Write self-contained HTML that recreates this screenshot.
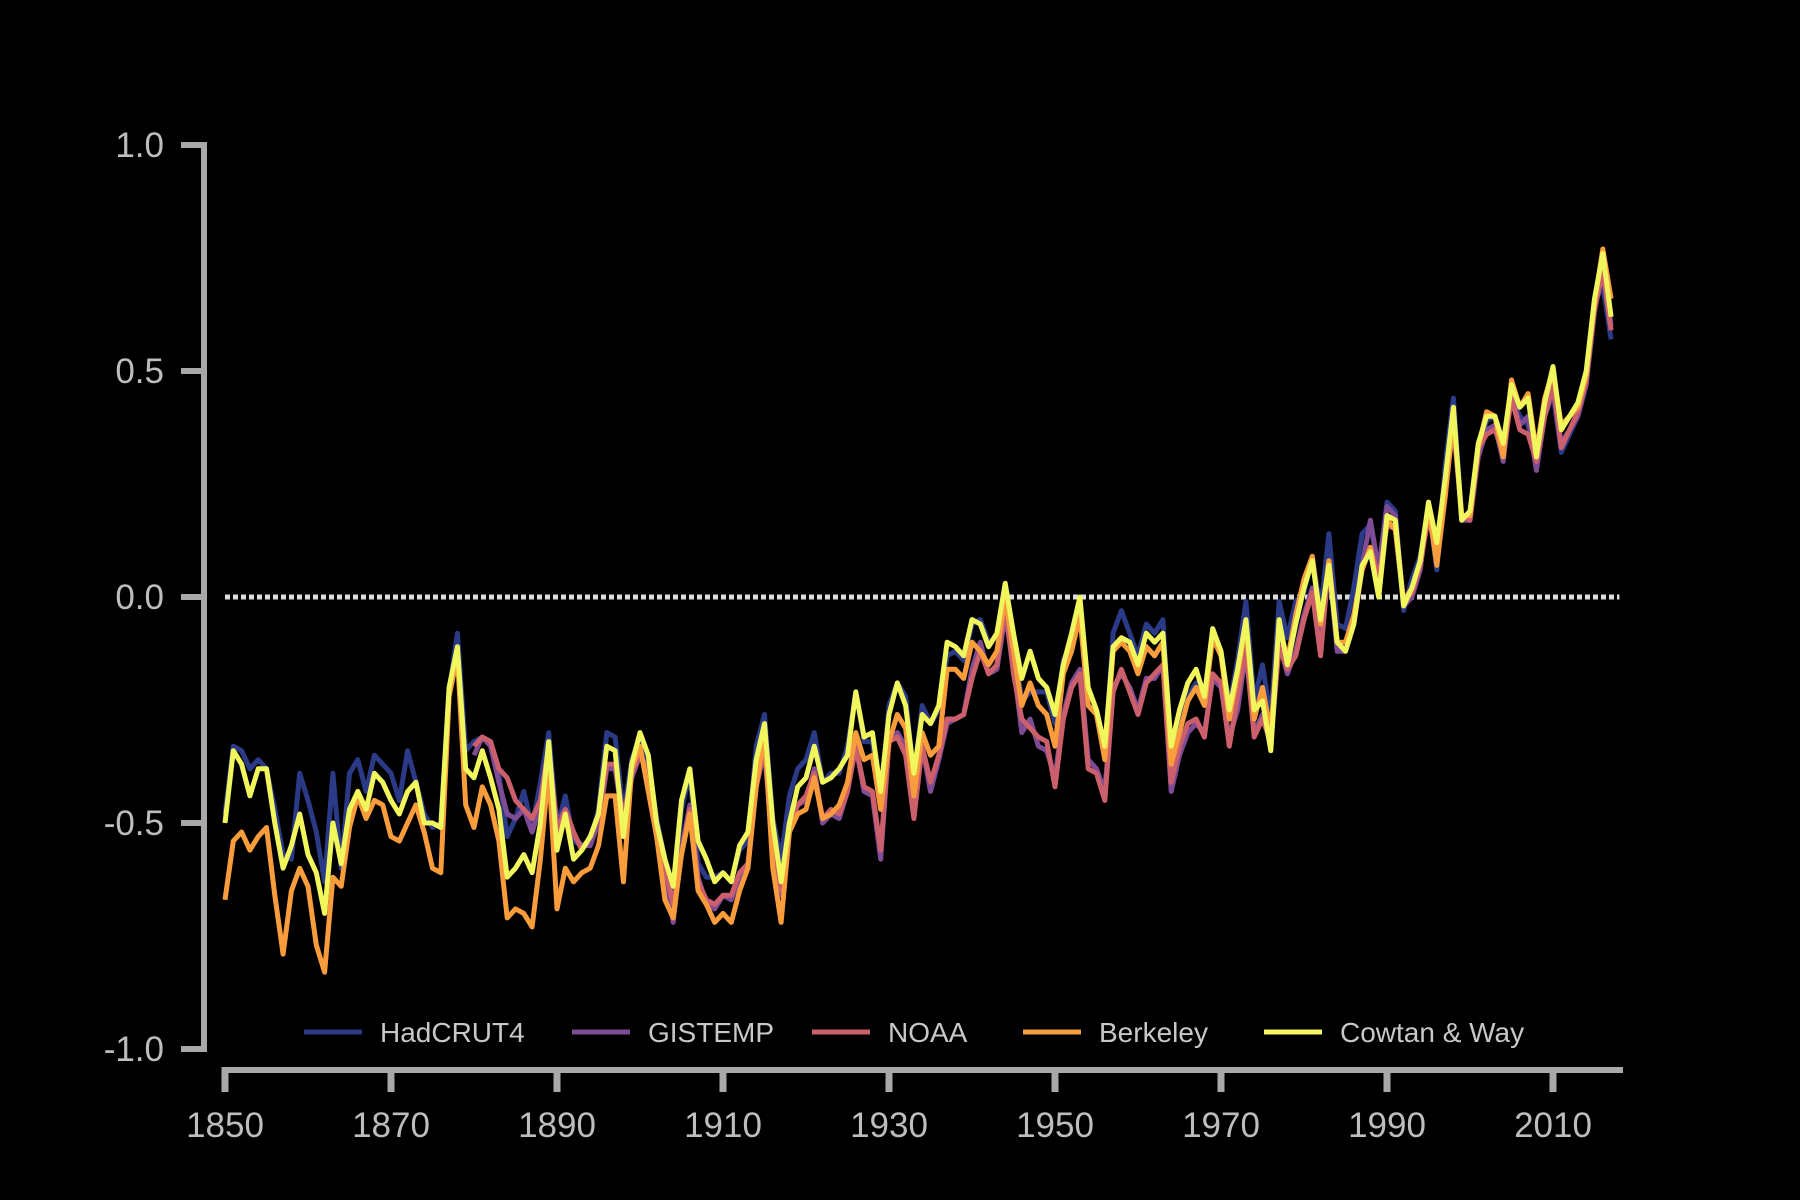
<!DOCTYPE html>
<html><head><meta charset="utf-8"><style>
html,body{margin:0;padding:0;background:#000;}
svg{display:block;font-family:"Liberation Sans",sans-serif;}
</style></head><body>
<svg id="chart" width="1800" height="1200" viewBox="0 0 1800 1200">
<rect width="1800" height="1200" fill="#000"/>
<g id="axes"></g><g id="zero"></g><g id="series"></g><g id="legend"></g>
</svg>
<script>
const yTicks = [1.0, 0.5, 0.0, -0.5, -1.0];
const yTickLabels = ["1.0","0.5","0.0","-0.5","-1.0"];
const xTicks = [1850,1870,1890,1910,1930,1950,1970,1990,2010];
const xTickLabels = ["1850","1870","1890","1910","1930","1950","1970","1990","2010"];
const seriesNames = ["HadCRUT4","GISTEMP","NOAA","Berkeley","Cowtan & Way"];
const seriesColors = ["#2b3a86","#7d4c95","#cc5f6c","#f99d3c","#f1f65c"];
const hadcrut4 = [-0.48,-0.33,-0.34,-0.38,-0.36,-0.38,-0.47,-0.57,-0.58,-0.39,
-0.45,-0.52,-0.63,-0.39,-0.60,-0.39,-0.36,-0.43,-0.35,-0.37,
-0.39,-0.45,-0.34,-0.41,-0.48,-0.51,-0.50,-0.21,-0.08,-0.34,
-0.32,-0.31,-0.32,-0.39,-0.53,-0.49,-0.43,-0.51,-0.41,-0.30,
-0.51,-0.44,-0.54,-0.55,-0.54,-0.47,-0.30,-0.31,-0.48,-0.36,
-0.31,-0.36,-0.49,-0.58,-0.67,-0.47,-0.39,-0.59,-0.62,-0.62,
-0.61,-0.63,-0.56,-0.54,-0.33,-0.26,-0.49,-0.58,-0.44,-0.38,
-0.36,-0.30,-0.41,-0.39,-0.39,-0.33,-0.21,-0.32,-0.32,-0.46,
-0.24,-0.19,-0.22,-0.40,-0.24,-0.28,-0.25,-0.13,-0.12,-0.14,
-0.06,-0.05,-0.10,-0.09,0.03,-0.10,-0.23,-0.21,-0.21,-0.21,
-0.28,-0.14,-0.10,-0.02,-0.24,-0.25,-0.35,-0.08,-0.03,-0.08,
-0.13,-0.06,-0.08,-0.05,-0.35,-0.28,-0.22,-0.19,-0.23,-0.07,
-0.12,-0.24,-0.14,-0.01,-0.23,-0.15,-0.27,-0.01,-0.09,-0.01,
0.01,0.09,-0.03,0.14,-0.06,-0.07,0.02,0.14,0.16,0.06,
0.21,0.19,-0.03,0.04,0.09,0.20,0.06,0.29,0.44,0.18,
0.18,0.33,0.39,0.40,0.34,0.44,0.40,0.38,0.29,0.40,
0.45,0.32,0.36,0.40,0.47,0.65,0.69,0.57];
const gistemp = [-0.35,-0.31,-0.33,-0.41,-0.48,-0.49,-0.47,-0.52,-0.46,-0.34,
-0.50,-0.47,-0.53,-0.55,-0.55,-0.50,-0.38,-0.38,-0.50,-0.40,
-0.35,-0.38,-0.52,-0.60,-0.72,-0.56,-0.46,-0.62,-0.68,-0.69,
-0.66,-0.67,-0.62,-0.60,-0.42,-0.34,-0.56,-0.66,-0.52,-0.46,
-0.45,-0.38,-0.50,-0.48,-0.49,-0.43,-0.33,-0.43,-0.44,-0.58,
-0.32,-0.30,-0.33,-0.47,-0.33,-0.43,-0.36,-0.28,-0.27,-0.26,
-0.16,-0.10,-0.17,-0.16,-0.04,-0.15,-0.30,-0.27,-0.33,-0.34,
-0.40,-0.26,-0.19,-0.16,-0.36,-0.38,-0.43,-0.20,-0.17,-0.20,
-0.25,-0.18,-0.18,-0.15,-0.43,-0.35,-0.30,-0.28,-0.30,-0.18,
-0.20,-0.31,-0.25,-0.12,-0.30,-0.26,-0.33,-0.10,-0.17,-0.12,
-0.04,0.02,-0.10,0.07,-0.12,-0.12,-0.05,0.07,0.17,0.06,
0.20,0.18,-0.02,0.00,0.06,0.20,0.10,0.22,0.40,0.17,
0.17,0.31,0.37,0.38,0.30,0.45,0.38,0.40,0.28,0.40,
0.46,0.34,0.37,0.40,0.47,0.63,0.73,0.60];
const noaa = [-0.33,-0.31,-0.32,-0.38,-0.40,-0.45,-0.47,-0.49,-0.45,-0.33,
-0.52,-0.47,-0.52,-0.56,-0.53,-0.49,-0.37,-0.37,-0.49,-0.39,
-0.35,-0.39,-0.50,-0.60,-0.68,-0.57,-0.47,-0.63,-0.67,-0.68,
-0.66,-0.66,-0.61,-0.59,-0.42,-0.33,-0.55,-0.65,-0.50,-0.46,
-0.44,-0.39,-0.49,-0.47,-0.48,-0.43,-0.33,-0.42,-0.43,-0.56,
-0.32,-0.31,-0.35,-0.49,-0.33,-0.41,-0.35,-0.27,-0.27,-0.26,
-0.18,-0.12,-0.17,-0.15,-0.02,-0.17,-0.27,-0.29,-0.31,-0.32,
-0.42,-0.27,-0.20,-0.17,-0.38,-0.39,-0.45,-0.21,-0.16,-0.21,
-0.26,-0.19,-0.17,-0.15,-0.41,-0.33,-0.28,-0.27,-0.31,-0.17,
-0.19,-0.33,-0.22,-0.11,-0.31,-0.27,-0.32,-0.11,-0.16,-0.13,
-0.05,0.01,-0.13,0.08,-0.10,-0.12,-0.06,0.06,0.11,0.04,
0.16,0.15,-0.01,0.01,0.07,0.18,0.09,0.23,0.38,0.18,
0.17,0.33,0.36,0.37,0.32,0.44,0.37,0.36,0.30,0.40,
0.47,0.33,0.37,0.41,0.48,0.64,0.72,0.59];
const berkeley = [-0.67,-0.54,-0.52,-0.56,-0.53,-0.51,-0.66,-0.79,-0.65,-0.60,
-0.64,-0.77,-0.83,-0.62,-0.64,-0.51,-0.44,-0.49,-0.45,-0.46,
-0.53,-0.54,-0.50,-0.46,-0.52,-0.60,-0.61,-0.22,-0.13,-0.46,
-0.51,-0.42,-0.46,-0.54,-0.71,-0.69,-0.70,-0.73,-0.58,-0.38,
-0.69,-0.60,-0.63,-0.61,-0.60,-0.55,-0.44,-0.44,-0.63,-0.38,
-0.33,-0.43,-0.53,-0.67,-0.71,-0.57,-0.48,-0.65,-0.68,-0.72,
-0.70,-0.72,-0.65,-0.60,-0.42,-0.30,-0.60,-0.72,-0.52,-0.48,
-0.47,-0.40,-0.49,-0.48,-0.46,-0.41,-0.30,-0.36,-0.35,-0.47,
-0.32,-0.26,-0.29,-0.44,-0.30,-0.35,-0.33,-0.16,-0.16,-0.18,
-0.10,-0.12,-0.15,-0.12,0.00,-0.12,-0.24,-0.19,-0.24,-0.26,
-0.33,-0.17,-0.12,-0.04,-0.24,-0.26,-0.36,-0.12,-0.10,-0.12,
-0.17,-0.11,-0.13,-0.10,-0.37,-0.30,-0.23,-0.20,-0.24,-0.09,
-0.13,-0.27,-0.17,-0.06,-0.27,-0.20,-0.30,-0.06,-0.14,-0.04,
0.04,0.09,-0.06,0.08,-0.10,-0.10,-0.04,0.06,0.11,0.00,
0.17,0.15,-0.01,0.02,0.08,0.20,0.07,0.22,0.40,0.18,
0.18,0.33,0.41,0.40,0.31,0.48,0.42,0.45,0.32,0.44,
0.50,0.38,0.40,0.42,0.49,0.65,0.77,0.66];
const cowtan = [-0.50,-0.34,-0.37,-0.44,-0.38,-0.38,-0.50,-0.60,-0.55,-0.48,
-0.57,-0.61,-0.70,-0.50,-0.59,-0.47,-0.43,-0.47,-0.39,-0.41,
-0.45,-0.48,-0.43,-0.41,-0.50,-0.50,-0.51,-0.20,-0.11,-0.38,
-0.40,-0.34,-0.40,-0.47,-0.62,-0.60,-0.57,-0.61,-0.50,-0.32,
-0.56,-0.48,-0.58,-0.56,-0.53,-0.48,-0.33,-0.34,-0.53,-0.37,
-0.30,-0.35,-0.50,-0.58,-0.64,-0.45,-0.38,-0.54,-0.58,-0.63,
-0.61,-0.63,-0.55,-0.52,-0.36,-0.28,-0.50,-0.63,-0.50,-0.42,
-0.40,-0.33,-0.41,-0.40,-0.38,-0.35,-0.21,-0.31,-0.30,-0.43,
-0.26,-0.19,-0.24,-0.39,-0.26,-0.28,-0.24,-0.10,-0.11,-0.13,
-0.05,-0.06,-0.11,-0.08,0.03,-0.08,-0.18,-0.12,-0.18,-0.20,
-0.26,-0.15,-0.08,0.00,-0.20,-0.25,-0.33,-0.11,-0.09,-0.10,
-0.15,-0.08,-0.10,-0.08,-0.33,-0.25,-0.19,-0.16,-0.22,-0.07,
-0.12,-0.25,-0.16,-0.05,-0.25,-0.23,-0.34,-0.05,-0.15,-0.06,
0.02,0.08,-0.05,0.07,-0.10,-0.12,-0.06,0.07,0.10,0.00,
0.18,0.17,-0.02,0.02,0.08,0.21,0.12,0.26,0.42,0.17,
0.19,0.34,0.40,0.40,0.34,0.47,0.42,0.44,0.31,0.43,
0.51,0.37,0.40,0.43,0.50,0.66,0.76,0.62];
const seriesStart = [1850,1880,1880,1850,1850];
const allSeries = [hadcrut4,gistemp,noaa,berkeley,cowtan];

const NS="http://www.w3.org/2000/svg";
function X(yr){return 225 + (yr-1850)*(1553-225)/160;}
function Y(v){return 597 - v*452;}
function mk(tag,attrs,parent){const e=document.createElementNS(NS,tag);for(const k in attrs)e.setAttribute(k,attrs[k]);parent.appendChild(e);return e;}

const axes=document.getElementById('axes');
const ya=mk('line',{x1:204,y1:Y(1.0),x2:204,y2:Y(-1.0),stroke:'#a8a8a8','stroke-width':6},axes);


yTicks.forEach((t,i)=>{
  const tk=mk('line',{x1:181,y1:Y(t),x2:207,y2:Y(t),stroke:'#a8a8a8','stroke-width':6},axes);
  
  
  const tx=mk('text',{x:164,y:Y(t)+12,'text-anchor':'end','font-size':35,fill:'#bdbdbd'},axes);
  tx.textContent=yTickLabels[i];
  
  
});
const xa=mk('line',{x1:222,y1:1070,x2:1623,y2:1070,stroke:'#a8a8a8','stroke-width':6},axes);


xTicks.forEach((t,i)=>{
  const tk=mk('line',{x1:X(t),y1:1067,x2:X(t),y2:1092,stroke:'#a8a8a8','stroke-width':7},axes);
  
  
  const tx=mk('text',{x:X(t),y:1137,'text-anchor':'middle','font-size':35,fill:'#bdbdbd'},axes);
  tx.textContent=xTickLabels[i];
  
  
});
const zl=mk('line',{x1:X(1850),y1:Y(0),x2:X(2018),y2:Y(0),stroke:'#dcdcdc','stroke-width':5,'stroke-dasharray':'5 3'},document.getElementById('zero'));



const sg=document.getElementById('series');
allSeries.forEach((arr,s)=>{
  const pts=arr.map((v,i)=>X(seriesStart[s]+i).toFixed(1)+','+Y(v).toFixed(1)).join(' ');
  const p=mk('polyline',{points:pts,fill:'none',stroke:seriesColors[s],'stroke-width':5,'stroke-linejoin':'round'},sg);
  
  
});

const lg=document.getElementById('legend');
const legX=[304,572,812,1023,1264];
seriesNames.forEach((n,s)=>{
  const g=mk('g',{},lg);
  
  
  mk('line',{x1:legX[s],y1:1032,x2:legX[s]+58,y2:1032,stroke:seriesColors[s],'stroke-width':5},g);
  const t=mk('text',{x:legX[s]+76,y:1042,'font-size':28,fill:'#c8c8c8'},g);
  t.textContent=n;
});
</script>
</body></html>
